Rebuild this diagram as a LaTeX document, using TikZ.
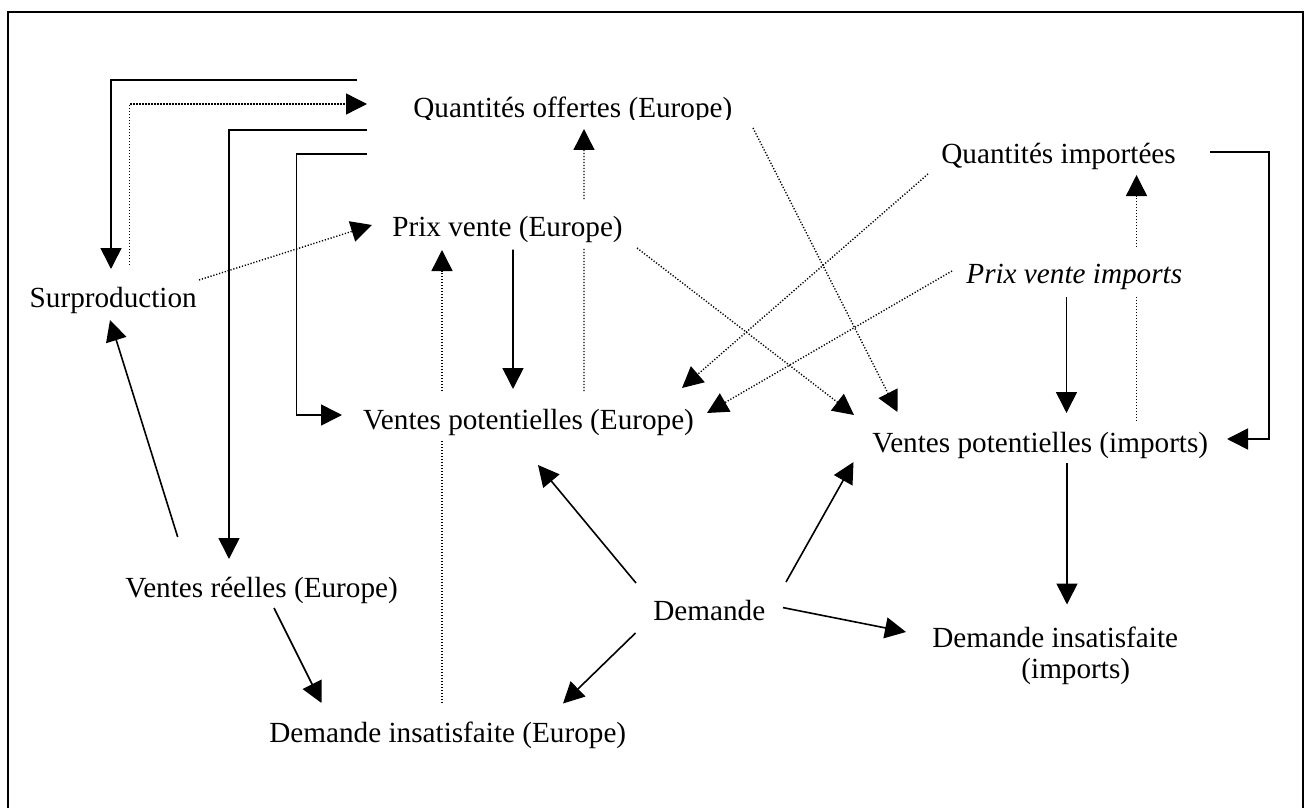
\documentclass[tikz,border=0pt]{standalone}
\usepackage{fontspec}
\setmainfont{Liberation Serif}
\usetikzlibrary{arrows.meta,backgrounds}

\tikzset{
  lbl/.style={anchor=base west, inner sep=0pt, font=\fontsize{14.6pt}{17pt}\selectfont},
  opaque/.style={fill=white, text height=18pt, text depth=6pt},
  tipshape/.style={-{Triangle[length=10.5pt,width=10.5pt]}},
  solidlink/.style={tipshape, line width=0.8pt},
  dottedlink/.style={tipshape, line width=0.7pt, dash pattern=on 0.6pt off 0.9pt},
  frame/.style={line width=1.1pt}
}

\begin{document}
\begin{tikzpicture}[x=0.5pt, y=-0.5pt]
\useasboundingbox (0,0) rectangle (1307,808);

% outer frame
\draw[frame] (8,830) -- (8,12) -- (1303,12) -- (1303,830);

% text boxes
\begin{scope}
  \clip (380,60) rectangle (780,120);
  \node[lbl] (qo) at (413,118) {Quantités offertes (Europe)};
\end{scope}
\node[lbl, opaque] (pve) at (392,236) {Prix vente (Europe)};
\node[lbl] (sur) at (29.3,307) {Surproduction};
\node[lbl, opaque] (vpe) at (362.7,429) {Ventes potentielles (Europe)};
\node[lbl] (vre) at (125,597) {Ventes réelles (Europe)};
\node[lbl] (die) at (269,742) {Demande insatisfaite (Europe)};
\node[lbl] (dem) at (653,620) {Demande};
\node[lbl] (qi) at (941,163) {Quantités importées};
\node[lbl, opaque] (pvi) at (966,283) {\itshape Prix vente imports};
\node[lbl] (vpi) at (872,452) {Ventes potentielles (imports)};
\node[lbl] (dii) at (932,647) {Demande insatisfaite};
\node[lbl] (diib) at (1021,678) {(imports)};

% links that run behind the text boxes
\begin{pgfonlayer}{background}
  \draw[dottedlink] ([shift={(173,-39)}]die.base west) -- ([shift={(50,14)}]pve.base west);
  \draw[dottedlink] ([shift={(221.3,-38)}]vpe.base west) -- ([shift={(171,11)}]qo.base west);
  \draw[dottedlink] ([shift={(264.5,-31)}]vpi.base west) -- ([shift={(195.5,12)}]qi.base west);
\end{pgfonlayer}

% left-hand loops around Quantités offertes
\draw[solidlink] ([shift={(-56,-38)}]qo.base west) -| ([shift={(81.7,-38)}]sur.base west);
\draw[dottedlink] ([shift={(100.2,-42)}]sur.base west) |- ([shift={(-46,-14)}]qo.base west);
\draw[solidlink] ([shift={(-46,12)}]qo.base west) -| ([shift={(104,-38)}]vre.base west);
\draw[solidlink] ([shift={(-46,36)}]qo.base west) -- ++(-70.5,0) |- ([shift={(-20.7,-14)}]vpe.base west);

% Europe side
\draw[dottedlink] ([shift={(169.7,-27)}]sur.base west) -- ([shift={(-20,-11)}]pve.base west);
\draw[solidlink] ([shift={(52.7,-60)}]vre.base west) -- ([shift={(80.7,13)}]sur.base west);
\draw[solidlink] ([shift={(149,11)}]vre.base west) -- ([shift={(52.5,-39)}]die.base west);
\draw[solidlink] ([shift={(121,13.5)}]pve.base west) -- ([shift={(150.3,-40)}]vpe.base west);

% crossing dotted links
\draw[dottedlink] ([shift={(245,12)}]pve.base west) -- ([shift={(-18,-37)}]vpi.base west);
\draw[dottedlink] ([shift={(340,10)}]qo.base west) -- ([shift={(25.5,-40)}]vpi.base west);
\draw[dottedlink] ([shift={(-13,11)}]qi.base west) -- ([shift={(319.3,-41)}]vpe.base west);
\draw[dottedlink] ([shift={(-14,-12)}]pvi.base west) -- ([shift={(344.3,-16)}]vpe.base west);

% imports side
\draw[solidlink] ([shift={(100.5,14)}]pvi.base west) -- ([shift={(194.5,-39)}]vpi.base west);
\draw[solidlink] ([shift={(269,-11)}]qi.base west) -- ++(59,0) |- ([shift={(355,-13)}]vpi.base west);
\draw[solidlink] ([shift={(195,11)}]vpi.base west) -- ([shift={(135,-42.5)}]dii.base west);

% demand
\draw[solidlink] ([shift={(-17,-37)}]dem.base west) -- ([shift={(175.3,36)}]vpe.base west);
\draw[solidlink] ([shift={(133,-38)}]dem.base west) -- ([shift={(-18.5,10)}]vpi.base west);
\draw[solidlink] ([shift={(130,-12.4)}]dem.base west) -- ([shift={(-26,-15)}]dii.base west);
\draw[solidlink] ([shift={(-17.5,13)}]dem.base west) -- ([shift={(294,-38.5)}]die.base west);
\end{tikzpicture}
\end{document}
